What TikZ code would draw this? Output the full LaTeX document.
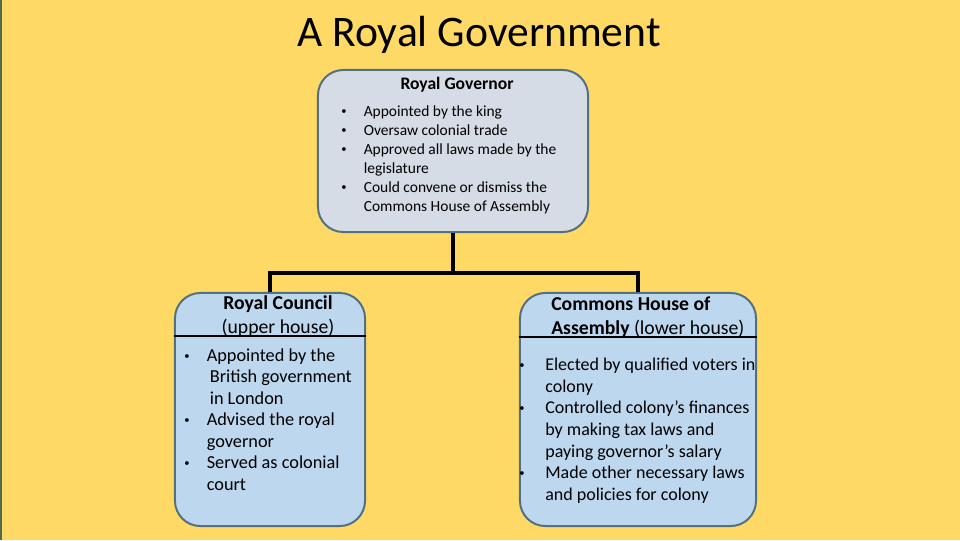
\documentclass[tikz,border=0pt]{standalone}
\usepackage{fontspec}
\setmainfont{Carlito}
\usetikzlibrary{positioning}
\definecolor{rgback}{HTML}{FFD966}
\definecolor{rgstrip}{HTML}{4E6B4A}
\definecolor{rggov}{HTML}{D6DCE5}
\definecolor{rghouse}{HTML}{BDD7EE}
\definecolor{rgedge}{HTML}{52707F}
\newcommand{\rgdot}{\raisebox{0.12em}{\fontsize{7.5}{8}\selectfont\textbullet}}
\tikzset{
  panel/.style={draw=rgedge, line width=1.4pt, rounded corners=18pt, inner sep=0pt},
  link/.style={draw=black, line width=2.2pt},
  sepline/.style={draw=black, line width=2pt},
  headtext/.style={font=\fontsize{14}{17}\selectfont, inner sep=0pt},
  bullets/.style={anchor=north west, inner sep=0pt, align=left}
}
\begin{document}
\begin{tikzpicture}[x=0.025cm, y=-0.025cm]
  % background
  \fill[rgback] (0,0) rectangle (960,540);
  \fill[rgstrip] (0,0) rectangle (2,540);
  \useasboundingbox (0,0) rectangle (960,540);

  \node[font=\fontsize{31}{36}\selectfont, inner sep=0pt] (title) at (479,35) {A Royal Government};

  % boxes
  \node[panel, fill=rggov, minimum width=6.75cm, minimum height=4.05cm] (gov) at (453,151) {};
  \node[panel, fill=rghouse, minimum width=4.75cm, minimum height=5.825cm] (council) at (270,409.5) {};
  \node[panel, fill=rghouse, minimum width=5.9cm, minimum height=5.825cm] (commons) at (638,409.5) {};

  % connectors
  \coordinate (split) at (453,273);
  \draw[link] (gov.south) -- (split);
  \draw[link] (split) -| (council.north);
  \draw[link] (split) -| (commons.north);

  % header rules
  \draw[sepline] (council.west |- 0,336) -- (council.east |- 0,336);
  \draw[sepline] (commons.west |- 0,337) -- (commons.east |- 0,337);

  % governor
  \node[font=\fontsize{12.5}{14}\selectfont\bfseries, inner sep=0pt] (govhead) at (457,85) {Royal Governor};
  \node[bullets, font=\fontsize{11}{13.5}\selectfont] (govlist) at (341,103) {%
    \begin{tabular}{@{}p{16pt}@{}l@{}}
    \rgdot & Appointed by the king\\
    \rgdot & Oversaw colonial trade\\
    \rgdot & Approved all laws made by the\\
           & legislature\\
    \rgdot & Could convene or dismiss the\\
           & Commons House of Assembly
    \end{tabular}};

  % council
  \node[headtext, align=center] (councilhead) at (278,316) {\textbf{Royal Council}\\(upper house)};
  \node[bullets, font=\fontsize{13}{15.3}\selectfont] (councillist) at (184,346) {%
    \begin{tabular}{@{}p{16pt}@{}l@{}}
    \rgdot & Appointed by the\\
           & \,British government\\
           & \,in London\\
    \rgdot & Advised the royal\\
           & governor\\
    \rgdot & Served as colonial\\
           & court
    \end{tabular}};

  % commons
  \node[headtext, align=left, anchor=west] (commonshead) at (551,317) {\textbf{Commons House of}\\\textbf{Assembly} (lower house)};
  \node[bullets, font=\fontsize{12.8}{15.4}\selectfont] (commonslist) at (519,355) {%
    \begin{tabular}{@{}p{18.5pt}@{}l@{}}
    \rgdot & Elected by qualified voters in\\
           & colony\\
    \rgdot & Controlled colony's finances\\
           & by making tax laws and\\
           & paying governor's salary\\
    \rgdot & Made other necessary laws\\
           & and policies for colony
    \end{tabular}};
\end{tikzpicture}
\end{document}
